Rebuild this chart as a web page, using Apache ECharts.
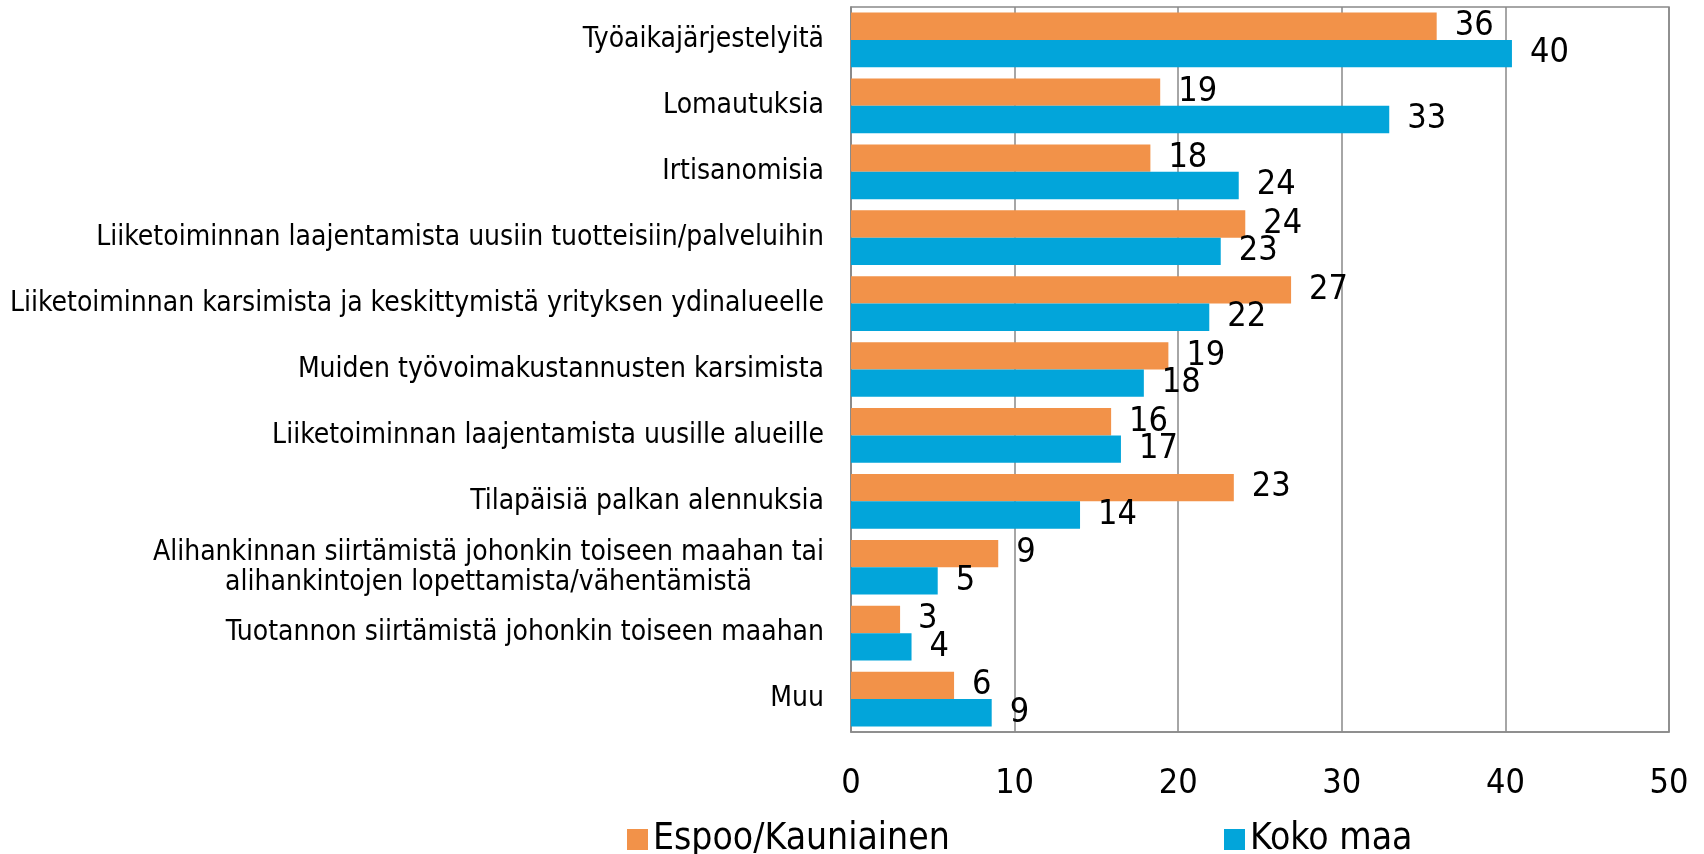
<!DOCTYPE html>
<html><head><meta charset="utf-8">
<script src="https://cdn.jsdelivr.net/npm/echarts@6/dist/echarts.min.js"></script>
<style>html,body{margin:0;padding:0;background:#fff}#c{width:1704px;height:854px}</style>
</head><body><div id="c"></div>
<script>
const categories = [
  'Työaikajärjestelyitä',
  'Lomautuksia',
  'Irtisanomisia',
  'Liiketoiminnan laajentamista uusiin tuotteisiin/palveluihin',
  'Liiketoiminnan karsimista ja keskittymistä yrityksen ydinalueelle',
  'Muiden työvoimakustannusten karsimista',
  'Liiketoiminnan laajentamista uusille alueille',
  'Tilapäisiä palkan alennuksia',
  'Alihankinnan siirtämistä johonkin toiseen maahan tai\nalihankintojen lopettamista/vähentämistä',
  'Tuotannon siirtämistä johonkin toiseen maahan',
  'Muu'
];
const seriesNames = ['Espoo/Kauniainen', 'Koko maa'];
const espoo = [35.8, 18.9, 18.3, 24.1, 26.9, 19.4, 15.9, 23.4, 9.0, 3.0, 6.3];
const kokoMaa = [40.4, 32.9, 23.7, 22.6, 21.9, 17.9, 16.5, 14.0, 5.3, 3.7, 8.6];
const xTicks = [0, 10, 20, 30, 40, 50];

const FONT = '"DejaVu Sans Condensed", "Liberation Sans Narrow", sans-serif';
const chart = echarts.init(document.getElementById('c'));
const labelOpt = {
  show: true, position: 'right', distance: 18,
  fontFamily: FONT, fontSize: 34, color: '#000',
  formatter: p => Math.round(p.value)
};
chart.setOption({
  animation: false,
  textStyle: { fontFamily: FONT },
  grid: { left: 851, right: 35, top: 7, bottom: 122, show: true, borderColor: '#898989', borderWidth: 1.5 },
  legend: [
    { data: [seriesNames[0]], left: 622, top: 816, itemWidth: 21, itemHeight: 21, icon: 'rect',
      textStyle: { fontFamily: FONT, fontSize: 37, color: '#000' } },
    { data: [seriesNames[1]], left: 1219, top: 816, itemWidth: 21, itemHeight: 21, icon: 'rect',
      textStyle: { fontFamily: FONT, fontSize: 37, color: '#000' } }
  ],
  xAxis: {
    type: 'value', min: xTicks[0], max: xTicks[xTicks.length - 1], interval: 10,
    axisLine: { show: true, lineStyle: { color: '#898989', width: 1.5 } },
    axisTick: { show: false },
    splitLine: { show: true, lineStyle: { color: '#898989', width: 1.5 } },
    axisLabel: { margin: 35, fontFamily: FONT, fontSize: 34, color: '#000' }
  },
  yAxis: {
    type: 'category', data: categories, inverse: true,
    axisLine: { show: true, lineStyle: { color: '#898989', width: 1.5 } },
    axisTick: { show: false },
    axisLabel: {
      margin: 27, fontFamily: FONT, fontSize: 28, color: '#000', lineHeight: 30,
      formatter: v => v.indexOf('\n') >= 0 ? v.split('\n').map(s => '{c|' + s + '}').join('\n') : v,
      rich: { c: { align: 'center', fontFamily: FONT, fontSize: 28, lineHeight: 30, color: '#000' } }
    }
  },
  series: [
    { name: seriesNames[0], type: 'bar', data: espoo, barGap: '0%', barCategoryGap: '17%',
      itemStyle: { color: '#F29249' }, label: labelOpt },
    { name: seriesNames[1], type: 'bar', data: kokoMaa, barGap: '0%', barCategoryGap: '17%',
      itemStyle: { color: '#02A5DA' }, label: labelOpt }
  ]
});
</script></body></html>
